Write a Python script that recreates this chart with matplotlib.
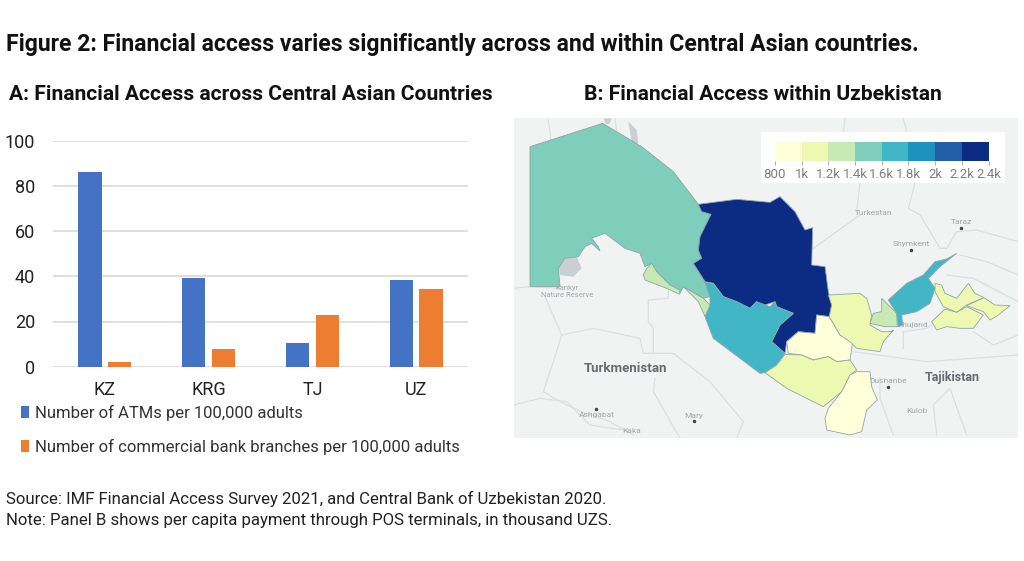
import matplotlib
matplotlib.use("Agg")
import matplotlib.pyplot as plt
from matplotlib.patches import Polygon

plt.rcParams['font.family'] = ['Roboto', 'DejaVu Sans']

countries = ['KZ', 'KRG', 'TJ', 'UZ']
atms = [86, 39.1, 10.3, 38.3]
branches = [2.2, 8, 22.7, 34.2]
y_ticks = [0, 20, 40, 60, 80, 100]

scale_labels = ['800', '1k', '1.2k', '1.4k', '1.6k', '1.8k', '2k', '2.2k', '2.4k']
scale_colors = ['#ffffd9', '#edf8b1', '#c7e9b4', '#7fcdbb', '#41b6c4', '#1d91c0', '#225ea8', '#0c2c84']

# region outlines, traced on the picture (x, y in map pixels)
def left(pts):
    return [(510 + x / 3, 115 + y / 3) for x, y in pts]

def right(pts):
    return [(760 + x / 3, 115 + y / 3) for x, y in pts]

karakalpakstan = left([(60, 95), (278, 25), (395, 95), (490, 170), (565, 268), (575, 290), (603, 298), (570, 365),
                       (565, 405), (575, 430), (550, 445), (585, 500), (600, 545), (580, 550), (520, 515), (510, 535),
                       (480, 510), (440, 470), (425, 445), (405, 455), (390, 415), (345, 400), (285, 355), (270, 360),
                       (245, 370), (265, 395), (270, 408), (245, 385), (225, 395), (205, 425), (165, 430), (145, 460),
                       (150, 515), (60, 515)])
navoi = left([(565, 268), (680, 253), (780, 262)]) + right([(60, 245), (105, 290), (135, 345), (158, 338), (155, 450),
             (195, 455), (205, 530), (215, 570), (208, 605), (170, 600), (165, 655), (115, 650), (80, 680), (75, 715),
             (35, 680), (60, 630), (100, 595), (50, 575), (45, 560), (0, 575)]) + left([(740, 560), (720, 580),
             (680, 560), (640, 545), (610, 505), (585, 500), (550, 445), (575, 430), (565, 405), (570, 365),
             (603, 298), (575, 290)])
bukhara = left([(585, 502), (610, 505), (640, 545), (680, 560), (720, 580), (740, 560), (780, 575)]) + right([(45, 560),
             (50, 575), (100, 595), (60, 630), (35, 680), (75, 715), (50, 750), (15, 773), (0, 775)]) + left([(750, 775),
             (610, 670), (585, 605), (600, 570), (600, 545)])
khorezm_a = left([(425, 445), (440, 470), (480, 510), (510, 525), (508, 538), (470, 520), (405, 495), (400, 480), (410, 460)])
khorezm_b = left([(520, 515), (580, 550), (600, 570), (585, 605), (565, 560), (535, 530)])
samarkand = right([(170, 600), (208, 605), (240, 660), (278, 680), (270, 735), (230, 740), (205, 725), (160, 735),
                   (125, 720), (85, 715), (80, 680), (115, 650), (165, 655)])
kashkadarya = right([(15, 773), (50, 750), (75, 718), (125, 720), (160, 735), (205, 725), (230, 740), (270, 735),
                     (290, 765), (270, 780), (245, 830), (190, 875), (130, 845), (80, 820)])
surkhandarya = right([(290, 770), (330, 770), (335, 815), (352, 855), (320, 885), (305, 950), (270, 960), (200, 945),
                      (195, 910), (205, 880), (245, 830), (270, 780)])
jizzakh = right([(205, 540), (300, 535), (320, 550), (335, 600), (330, 630), (365, 650), (395, 650), (400, 645),
                 (370, 680), (360, 710), (290, 700), (270, 680), (240, 660), (208, 605), (215, 570)])
sirdarya = right([(365, 550), (410, 595), (412, 635), (375, 635), (330, 625), (340, 595), (365, 590)])
tashkent = right([(590, 415), (560, 432), (525, 440), (490, 480), (440, 505), (385, 555), (410, 595), (415, 635),
                  (428, 630), (425, 600), (470, 590), (510, 565), (525, 520), (505, 490), (540, 455)])
namangan = right([(525, 505), (545, 510), (555, 535), (590, 550), (625, 505), (645, 535), (672, 548), (620, 570),
                  (590, 592), (550, 575), (525, 530)])
andijan = right([(620, 572), (672, 548), (705, 570), (750, 572), (715, 600), (690, 615), (670, 590)])
fergana = right([(515, 620), (555, 582), (590, 592), (620, 575), (670, 600), (640, 640), (600, 640), (560, 635), (530, 645)])

# region, index into scale_colors
regions = [(karakalpakstan, 3), (navoi, 7), (bukhara, 4), (khorezm_a, 2), (khorezm_b, 2), (samarkand, 0),
           (kashkadarya, 1), (surkhandarya, 0), (jizzakh, 1), (sirdarya, 2), (tashkent, 4), (namangan, 1),
           (andijan, 1), (fergana, 1)]

lakes = [left([(165, 430), (200, 425), (215, 460), (190, 485), (150, 480), (145, 455)]),
         left([(355, 20), (380, 45), (385, 85), (365, 80), (360, 50)]),
         left([(282, 10), (305, 10), (298, 28), (285, 25)])]

borders = [left([(10, 520), (60, 515), (150, 520)]),
           left([(105, 545), (155, 660), (250, 640), (390, 670), (400, 715), (490, 715), (600, 800), (700, 920), (680, 970)]),
           left([(155, 660), (130, 740), (100, 830), (150, 860), (215, 890), (300, 920), (370, 960)]),
           left([(475, 520), (475, 550), (415, 555), (415, 620), (430, 640), (430, 715)]),
           left([(10, 870), (90, 850), (170, 860), (240, 930), (340, 945)]),
           left([(435, 790), (430, 830), (470, 900), (510, 970)]),
           left([(115, 15), (125, 95)]),
           left([(315, 10), (320, 50)]),
           right([(255, 10), (250, 50)]),
           right([(430, 10), (440, 50)]),
           right([(465, 205), (445, 280), (480, 300), (540, 400), (560, 400), (590, 350), (650, 345), (775, 380)]),
           right([(300, 300), (160, 400)]),
           right([(300, 205), (290, 290)]),
           right([(430, 700), (430, 650), (500, 640), (515, 630)]),
           right([(280, 710), (500, 740), (775, 720)]),
           right([(360, 790), (360, 850), (400, 960)]),
           right([(530, 960), (520, 870), (570, 820), (620, 960)]),
           right([(640, 650), (700, 690), (775, 660)]),
           right([(600, 420), (680, 440), (775, 480)]),
           right([(560, 480), (640, 490), (775, 560)])]

# label, x, y, size, colour
place_names = [('Turkmenistan', 625, 368, 9.5, '#666c70'), ('Tajikistan', 952, 378, 9, '#666c70'),
               ('Turkestan', 874, 213, 6, '#a4a8ab'), ('Taraz', 961, 222, 6, '#a4a8ab'),
               ('Shymkent', 911, 244, 6, '#a4a8ab'), ('Dushanbe', 888, 381, 6, '#a4a8ab'),
               ('Kulob', 917, 411, 6, '#a4a8ab'), ('Khujand', 913, 325, 6, '#a4a8ab'),
               ('Ashgabat', 597, 415, 6, '#a4a8ab'), ('Mary', 694, 416, 6, '#a4a8ab'),
               ('Kaka', 632, 431, 6, '#a4a8ab'), ('Kankyr', 567, 288, 5.5, '#a4a8ab'),
               ('Nature Reserve', 567, 295, 5.5, '#a4a8ab')]
city_dots = [(596, 409), (694, 421), (961, 228), (911, 250), (888, 387)]

W, H = 1024, 561
fig = plt.figure(figsize=(W / 100, H / 100), dpi=100)

def px_axes(x0, y0, x1, y1):
    return fig.add_axes([x0 / W, 1 - y1 / H, (x1 - x0) / W, (y1 - y0) / H])

# panel A
ax = px_axes(53, 140.7, 468, 366.7)
xs = range(len(countries))
b1 = ax.bar([x - 0.143 for x in xs], atms, width=0.223, color='#4472c4', zorder=3,
            label='Number of ATMs per 100,000 adults')
b2 = ax.bar([x + 0.143 for x in xs], branches, width=0.223, color='#ed7d31', zorder=3,
            label='Number of commercial bank branches per 100,000 adults')
ax.set_xlim(-0.5, 3.5)
ax.set_ylim(0, 100)
ax.set_yticks(y_ticks)
ax.set_xticks(list(xs))
ax.set_xticklabels(countries)
ax.tick_params(axis='both', length=0, labelsize=13, labelcolor='#222222')
ax.tick_params(axis='y', pad=13)
ax.tick_params(axis='x', pad=10)
ax.grid(axis='y', color='#d9d9d9', lw=1.2, zorder=0)
ax.set_axisbelow(True)
for s in ax.spines.values():
    s.set_visible(False)
ax.legend(handles=[b1, b2], loc='upper left', bbox_to_anchor=(21 / W, 1 - 405 / H),
          bbox_transform=fig.transFigure, frameon=False, fontsize=12, labelcolor='#333333',
          handlelength=0.5, handleheight=0.7, handletextpad=0.35, labelspacing=1.05,
          borderpad=0, borderaxespad=0)

# panel B
mp = px_axes(514, 118, 1018, 438)
mp.set_xlim(514, 1018)
mp.set_ylim(438, 118)
mp.set_facecolor('#f1f2f2')
mp.set_xticks([])
mp.set_yticks([])
for s in mp.spines.values():
    s.set_visible(False)
for line in borders:
    mp.plot([p[0] for p in line], [p[1] for p in line], color='#dcdfe0', lw=0.9, zorder=1)
for lake in lakes:
    mp.add_patch(Polygon(lake, closed=True, fc='#c9cfd2', ec='none', zorder=1))
mp.plot([p[0] for p in city_dots], [p[1] for p in city_dots], 'o', ms=1.5, color='#444444', zorder=2)
for name, x, y, size, col in place_names:
    mp.text(x, y, name, fontsize=size, color=col, ha='center', va='center', zorder=2,
            fontweight='bold' if size > 8 else 'normal')
for pts, idx in regions:
    mp.add_patch(Polygon(pts, closed=True, fc=scale_colors[idx], ec='#8fa5a8', lw=0.6, zorder=3))

# colour scale
mp.add_patch(Polygon([(761, 132), (1005, 132), (1005, 183), (761, 183)], closed=True, fc='white', ec='none', zorder=4))
cb = px_axes(775, 141.5, 988.5, 161)
cb.bar(range(len(scale_colors)), [1] * len(scale_colors), width=1, align='edge', color=scale_colors)
cb.set_xlim(0, len(scale_colors))
cb.set_ylim(0, 1)
cb.set_yticks([])
cb.set_xticks(range(len(scale_labels)))
cb.set_xticklabels(scale_labels)
cb.tick_params(axis='x', length=3, width=0.7, color='#aaaaaa', labelsize=9.5, labelcolor='#808080', pad=2)
for s in cb.spines.values():
    s.set_visible(False)

# titles and notes
fig.text(6 / W, 1 - 44 / H, 'Figure 2: Financial access varies significantly across and within Central Asian countries.',
         fontsize=16.6, fontweight='bold', color='#111111', va='center')
fig.text(9 / W, 1 - 95 / H, 'A: Financial Access across Central Asian Countries',
         fontsize=15.1, fontweight='bold', color='#111111', va='center')
fig.text(584 / W, 1 - 94 / H, 'B: Financial Access within Uzbekistan',
         fontsize=15.1, fontweight='bold', color='#111111', va='center')
fig.text(6 / W, 1 - 499 / H, 'Source: IMF Financial Access Survey 2021, and Central Bank of Uzbekistan 2020.',
         fontsize=12.1, color='#222222', va='center')
fig.text(6 / W, 1 - 520 / H, 'Note: Panel B shows per capita payment through POS terminals, in thousand UZS.',
         fontsize=12.1, color='#222222', va='center')

fig.savefig('out.png', dpi=100)
